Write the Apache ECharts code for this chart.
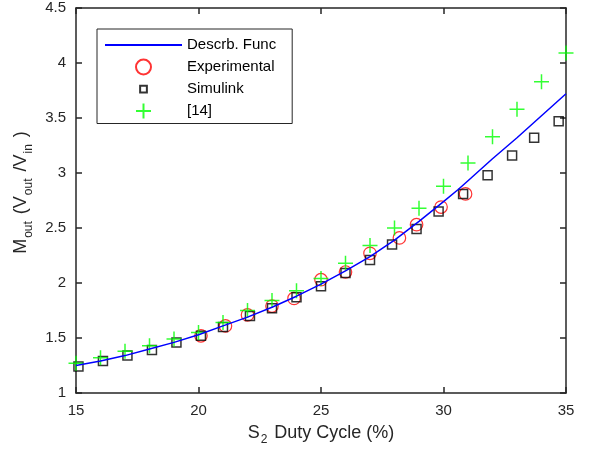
<!DOCTYPE html>
<html>
<head>
<meta charset="utf-8">
<script src="https://cdn.jsdelivr.net/npm/echarts@6/dist/echarts.min.js"></script>
<style>
  html, body { margin: 0; padding: 0; background: #fff; }
  #chart { width: 592px; height: 458px; }
</style>
</head>
<body>
<div id="chart"></div>
<script>
// duty cycle (%) vs gain M_out
var descrX = [15, 16, 17, 18, 19, 20, 21, 22, 23, 24, 25, 26, 27, 28, 29, 30, 30.6, 31, 32, 33, 34, 35];
var descrY = [1.25, 1.29, 1.34, 1.40, 1.46, 1.53, 1.61, 1.69, 1.78, 1.88, 1.99, 2.11, 2.24, 2.39, 2.56, 2.74, 2.85, 2.93, 3.13, 3.32, 3.52, 3.72];

var expX = [20.1, 21.1, 22.0, 23.0, 23.9, 25.0, 26.0, 27.0, 28.2, 28.9, 29.9, 30.9];
var expY = [1.52, 1.61, 1.71, 1.79, 1.86, 2.03, 2.10, 2.27, 2.41, 2.53, 2.69, 2.81];

var simX = [15.1, 16.1, 17.1, 18.1, 19.1, 20.1, 21.0, 22.1, 23.0, 24.0, 25.0, 26.0, 27.0, 27.9, 28.9, 29.8, 30.8, 31.8, 32.8, 33.7, 34.7];
var simY = [1.24, 1.29, 1.34, 1.39, 1.46, 1.52, 1.60, 1.70, 1.77, 1.87, 1.97, 2.09, 2.21, 2.35, 2.49, 2.65, 2.81, 2.98, 3.16, 3.32, 3.47];

var refX = [15, 16, 17, 18, 19, 20, 21, 22, 23, 24, 25, 26, 27, 28, 29, 30, 31, 32, 33, 34, 35];
var refY = [1.27, 1.32, 1.38, 1.43, 1.49, 1.55, 1.64, 1.75, 1.84, 1.93, 2.04, 2.18, 2.34, 2.50, 2.68, 2.88, 3.09, 3.33, 3.58, 3.83, 4.09];

var xTicks = { min: 15, max: 35, interval: 5 };
var yTicks = { min: 1, max: 4.5, interval: 0.5 };

function pairs(xs, ys) {
    return xs.map(function (x, i) { return [x, ys[i]]; });
}

var axisColor = '#262626';
var font = '"Liberation Sans", Arial, sans-serif';

function boxAxis(pos, ticks, showLabel) {
    return {
        type: 'value',
        position: pos,
        min: ticks.min,
        max: ticks.max,
        interval: ticks.interval,
        splitLine: { show: false },
        axisLine: { show: true, onZero: false, lineStyle: { color: axisColor, width: 1.5 } },
        axisTick: { show: true, inside: true, length: 6, lineStyle: { color: axisColor, width: 1.5 } },
        axisLabel: { show: showLabel, color: axisColor, fontSize: 15, fontFamily: font, margin: 10 }
    };
}

var subStyle = { fontSize: 12, fontFamily: font, color: axisColor, padding: [14, 2, 0, 1] };

var chart = echarts.init(document.getElementById('chart'), null, { renderer: 'canvas' });

var xMain = boxAxis('bottom', xTicks, true);
xMain.name = 'S{sub|2} Duty Cycle (%)';
xMain.nameLocation = 'middle';
xMain.nameGap = 27;
xMain.nameTextStyle = { color: axisColor, fontSize: 18, fontFamily: font, rich: { sub: subStyle } };

var yMain = boxAxis('left', yTicks, true);
yMain.name = 'M{sub|out} (V{sub|out} /V{sub|in} )';
yMain.nameLocation = 'middle';
yMain.nameGap = 31;
yMain.nameTextStyle = {
    color: axisColor, fontSize: 18, fontFamily: font,
    padding: [0, 0, 0, 16],
    rich: { sub: subStyle }
};

chart.setOption({
    animation: false,
    backgroundColor: '#fff',
    grid: { left: 76, right: 26, top: 8, bottom: 65 },
    xAxis: [xMain, boxAxis('top', xTicks, false)],
    yAxis: [yMain, boxAxis('right', yTicks, false)],
    legend: {
        orient: 'vertical',
        left: 97,
        top: 29,
        padding: [7.5, 16, 4, 7],
        itemWidth: 77,
        itemHeight: 15,
        itemGap: 5,
        borderColor: axisColor,
        borderWidth: 1,
        backgroundColor: '#fff',
        textStyle: { color: '#000', fontSize: 15, fontFamily: font },
        data: [
            { name: 'Descrb. Func', icon: 'path://M0,0M77,15M0,7.5L77,7.5' },
            { name: 'Experimental' },
            { name: 'Simulink', icon: 'path://M0,0M20,20M5.5,5.5L14.5,5.5L14.5,14.5L5.5,14.5Z' },
            { name: '[14]' }
        ]
    },
    series: [
        {
            name: 'Descrb. Func',
            type: 'line',
            data: pairs(descrX, descrY),
            symbol: 'none',
            smooth: false,
            lineStyle: { color: '#0000ff', width: 1.5 },
            itemStyle: { color: '#0000ff', borderColor: '#0000ff', borderWidth: 1.5 }
        },
        {
            name: 'Experimental',
            type: 'scatter',
            data: pairs(expX, expY),
            symbol: 'circle',
            symbolSize: 12.5,
            itemStyle: { color: 'transparent', borderColor: '#ff0000', borderWidth: 1.2 }
        },
        {
            name: 'Simulink',
            type: 'scatter',
            data: pairs(simX, simY),
            symbol: 'rect',
            symbolSize: 9,
            itemStyle: { color: 'transparent', borderColor: '#000', borderWidth: 1.5 }
        },
        {
            name: '[14]',
            type: 'scatter',
            data: pairs(refX, refY),
            symbol: 'path://M0,8L16,8M8,0L8,16',
            symbolSize: 15,
            itemStyle: { color: 'transparent', borderColor: '#00ff00', borderWidth: 1.5 }
        }
    ]
});
</script>
</body>
</html>
